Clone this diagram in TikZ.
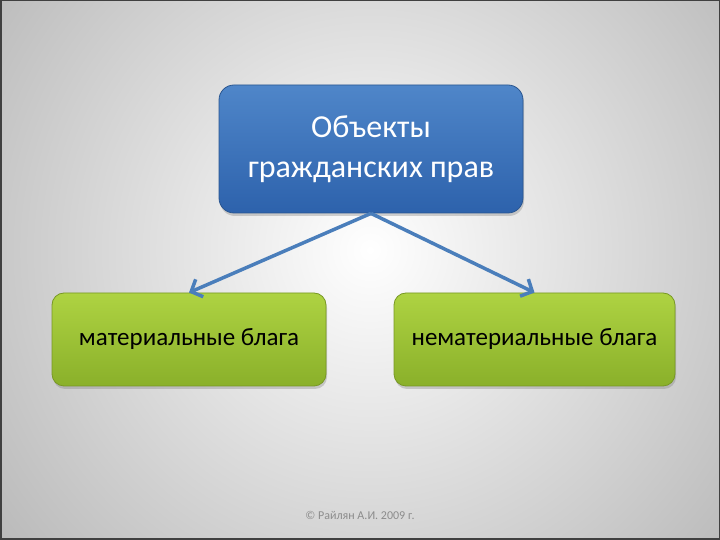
\documentclass[tikz,border=0pt]{standalone}
\usepackage{fontspec}
\setmainfont{Carlito}
\usetikzlibrary{arrows.meta,positioning,shadows}

\definecolor{topblue}{HTML}{4F86C9}
\definecolor{botblue}{HTML}{2D62AC}
\definecolor{edgeblue}{HTML}{2A5690}
\definecolor{topgreen}{HTML}{AED342}
\definecolor{botgreen}{HTML}{8AB02A}
\definecolor{edgegreen}{HTML}{789824}
\definecolor{arrowblue}{HTML}{4A7EBB}

\begin{document}
\begin{tikzpicture}[
  x=1pt, y=1pt,
  rootbox/.style={rounded corners=15pt, draw=edgeblue, line width=0.8pt,
    top color=topblue, bottom color=botblue, text=white, align=center,
    font=\fontsize{32}{40}\selectfont, inner sep=0pt,
    drop shadow={shadow xshift=1pt, shadow yshift=-3pt, opacity=0.35}},
  leafbox/.style={rounded corners=12pt, draw=edgegreen, line width=0.8pt,
    top color=topgreen, bottom color=botgreen, text=black, align=center,
    font=\fontsize{25}{30}\selectfont, inner sep=0pt,
    drop shadow={shadow xshift=1pt, shadow yshift=-3pt, opacity=0.35}},
  link/.style={-{Straight Barb[length=9pt,width=19pt,line width=3.5pt]}, line width=3.5pt, draw=arrowblue}
]

% ================= Background =================
\useasboundingbox (0,0) rectangle (720,540);
\shade[inner color=white, outer color=black!45] (-410,-490) rectangle (1150,1070);
\draw[black!75, line width=1.5pt] (0.75,0.75) rectangle (719.25,539.25);

% ================= Boxes =================
\node[rootbox, minimum width=304pt, minimum height=128pt] (root) at (371,391)
  {Объекты\\гражданских прав};
\node[leafbox, minimum width=274pt, minimum height=93pt] (mat) at (189,200.5)
  {материальные блага};
\node[leafbox, minimum width=281pt, minimum height=93pt] (nemat) at (534.5,200.5)
  {нематериальные блага};

% ================= Arrows =================
\draw[link] (root.south) -- (mat.north);
\draw[link] (root.south) -- (nemat.north);

% ================= Footer =================
\node[text=black!45, font=\fontsize{12}{14}\selectfont] (footer) at (360,25)
  {© Райлян А.И. 2009 г.};

\end{tikzpicture}
\end{document}
